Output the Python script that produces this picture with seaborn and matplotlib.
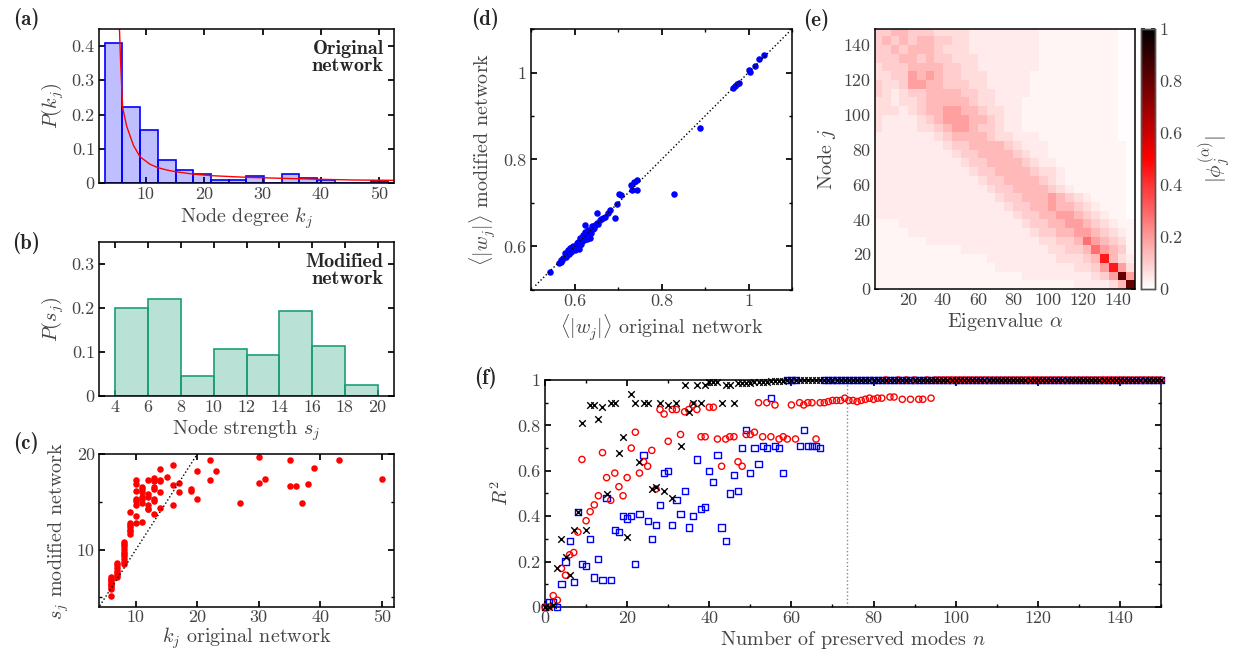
import numpy as np
import pandas as pd
import matplotlib
matplotlib.use('Agg')
import matplotlib.pyplot as plt
import seaborn as sns
from matplotlib.colors import LinearSegmentedColormap
from matplotlib.ticker import FuncFormatter, MultipleLocator

# ---------------- data ----------------
# (a) degree distribution of the original network
deg_edges = [3.0, 6.0, 9.0, 12.1, 15.1, 18.1, 21.2, 24.2, 27.2, 30.3, 33.3,
             36.3, 39.4, 42.4, 45.4, 48.5, 51.5]
deg_prob = [0.41, 0.221, 0.154, 0.066, 0.039, 0.027, 0.008, 0.008, 0.02, 0.0,
            0.027, 0.0135, 0.008, 0.0, 0.0, 0.0068]
fit_k = [5.4, 5.5, 5.73, 6.05, 6.75, 7.9, 9.0, 10.7, 12.05, 13.6, 15.1, 18.1,
         21.2, 27.2, 33.3, 39.4, 45.5, 52.5]
fit_p = [0.5, 0.45, 0.34, 0.22, 0.165, 0.11, 0.077, 0.055, 0.045, 0.038, 0.033,
         0.026, 0.0215, 0.0166, 0.0137, 0.011, 0.0088, 0.0078]

# (b) strength distribution of the modified network
str_edges = [4, 6, 8, 10, 12, 14, 16, 18, 20]
str_prob = [0.2, 0.22, 0.046, 0.106, 0.093, 0.194, 0.113, 0.026]

# (c) node degree (original) vs node strength (modified)
k_orig = [6, 6, 6, 6, 6, 6, 6, 6, 6,
          7, 7, 7, 7, 7, 7, 7,
          8, 8, 8, 8, 8, 8, 8, 8, 8, 8,
          9, 9, 9, 9, 9, 9, 9,
          10, 10, 10, 10, 10, 10, 10, 10,
          11, 11, 11, 11, 11, 11, 11,
          12, 12, 12, 12, 12, 12,
          13, 13, 13, 13, 13, 13, 13, 13,
          14, 14, 14, 14, 14, 15, 16, 16, 16, 17, 17, 19, 19, 20, 20,
          22, 22, 23, 27, 30, 30, 31, 35, 35, 36, 37, 38, 39, 43, 50]
s_mod = [7.13, 6.96, 6.8, 6.6, 6.4, 6.26, 6.1, 5.9, 5.15,
         8.6, 8.34, 8.1, 7.8, 7.6, 7.3, 7.1,
         10.8, 10.6, 10.35, 10.1, 9.8, 9.55, 9.3, 9.0, 8.75, 8.5,
         13.9, 12.8, 12.6, 12.4, 12.1, 11.9, 11.6,
         17.3, 16.9, 16.1, 15.3, 15.1, 14.7, 13.5, 12.8,
         16.5, 16.3, 16.0, 15.5, 15.3, 14.9, 12.9,
         17.3, 15.8, 15.5, 14.7, 14.3, 14.2,
         17.5, 17.3, 17.2, 16.6, 16.3, 15.3, 15.1, 13.7,
         18.4, 17.3, 17.2, 16.0, 14.4, 17.6, 18.8, 16.8, 14.7, 17.0, 16.0,
         16.3, 16.1, 18.2, 15.3,
         19.4, 17.3, 18.2, 14.9, 19.7, 17.0, 17.4, 19.4, 16.7, 16.7, 14.9,
         16.9, 18.5, 19.4, 17.4]

# (d) mean absolute weight, original vs modified
w_orig = [0.544, 0.565, 0.568, 0.570, 0.572, 0.574, 0.578, 0.580, 0.582, 0.586,
          0.588, 0.590, 0.593, 0.595, 0.597, 0.600, 0.603, 0.605, 0.607, 0.609,
          0.611, 0.612, 0.613, 0.615, 0.617, 0.618, 0.620, 0.622, 0.623, 0.624,
          0.626, 0.627, 0.629, 0.630, 0.632, 0.634, 0.636, 0.638, 0.640, 0.643,
          0.645, 0.647, 0.651, 0.651, 0.655, 0.658, 0.662, 0.666, 0.671, 0.678,
          0.682, 0.693, 0.697, 0.703, 0.706, 0.731, 0.733, 0.737, 0.744, 0.744,
          0.829, 0.888, 0.965, 0.969, 0.973, 0.979, 1.000, 1.004, 1.015, 1.025,
          1.036]
w_mod = [0.542, 0.561, 0.569, 0.565, 0.568, 0.573, 0.584, 0.576, 0.580, 0.592,
         0.583, 0.596, 0.588, 0.598, 0.600, 0.593, 0.597, 0.607, 0.600, 0.611,
         0.594, 0.603, 0.619, 0.606, 0.612, 0.620, 0.626, 0.615, 0.649, 0.634,
         0.630, 0.622, 0.617, 0.628, 0.638, 0.626, 0.619, 0.632, 0.646, 0.640,
         0.643, 0.649, 0.655, 0.676, 0.652, 0.660, 0.664, 0.665, 0.668, 0.676,
         0.685, 0.666, 0.698, 0.720, 0.718, 0.741, 0.729, 0.749, 0.754, 0.731,
         0.720, 0.872, 0.965, 0.969, 0.974, 0.977, 1.005, 1.002, 1.015, 1.030,
         1.041]

# (e) |phi_j^(alpha)| on a coarse 30 x 30 grid (5 nodes x 5 eigenvalues per cell)
# rows: node 150 (top) -> 0 (bottom); columns: eigenvalue 0 -> 150
# digit = intensity level, see phi_levels
phi_rows = [
    "445544433" "3322222222" "111111111" "00",
    "454545544" "3322222222" "111111111" "00",
    "445455543" "3322222222" "111111111" "00",
    "444554544" "3332222222" "111111111" "00",
    "344455554" "4332222222" "111111111" "00",
    "334465654" "4333222221" "111111111" "00",
    "433466554" "4433222221" "111111111" "00",
    "432344555" "5443322221" "111111111" "00",
    "332334555" "5543322211" "111111111" "00",
    "333234556" "6554332211" "111111111" "00",
    "322223456" "6655432211" "111111111" "00",
    "322223345" "6654432211" "111111111" "00",
    "222222234" "5555433222" "111111111" "00",
    "222222223" "4455554322" "211111111" "10",
    "222222222" "3445555432" "211111111" "10",
    "222222222" "2344555543" "221111111" "10",
    "222222222" "2234455554" "332111111" "10",
    "222222222" "2223445555" "432111111" "10",
    "222222222" "2222344555" "543211111" "10",
    "222222222" "2222234455" "565432111" "10",
    "222222222" "2222223445" "565543211" "10",
    "222222222" "2222222344" "556654321" "10",
    "111222222" "2222222234" "455665432" "11",
    "111122222" "2222222223" "445566543" "21",
    "111111222" "2222222222" "334457654" "31",
    "111111111" "1222222222" "233445765" "41",
    "111111111" "1111222222" "223334585" "32",
    "111111111" "1111122222" "222233468" "63",
    "111111111" "1111111122" "222222346" "96",
    "111111111" "1111111111" "111122223" "59",
]
phi_levels = [0.005, 0.02, 0.04, 0.07, 0.10, 0.14, 0.19, 0.28, 0.45, 0.8]

# (f) R^2 vs number of preserved modes, three reconstructions
black_n = list(range(0, 151))
black_r2 = [0.0, 0.0, 0.01, 0.17, 0.30, 0.22, 0.14, 0.34, 0.42, 0.81,
            0.34, 0.89, 0.89, 0.83, 0.88, 0.50, 0.90, 0.90, 0.68, 0.75,
            0.31, 0.94, 0.90, 0.64, 0.90, 0.90, 0.52, 0.53, 0.90, 0.51,
            0.89, 0.48, 0.90, 0.71, 0.98, 0.86, 0.90, 0.98, 0.90, 0.98,
            0.99, 0.99, 0.99, 0.90, 0.98, 0.98, 0.90, 0.985, 0.985, 0.985,
            0.985, 0.99, 0.99, 0.99, 0.99, 0.995, 0.995, 0.995, 0.995, 1,
            1, 1, 1, 1, 1, 1, 1, 1, 1, 1, 1, 1, 1, 1, 1, 1, 1, 1, 1, 1,
            1, 1, 1, 1, 1, 1, 1, 1, 1, 1, 1, 1, 1, 1, 1, 1, 1, 1, 1, 1,
            1, 1, 1, 1, 1, 1, 1, 1, 1, 1, 1, 1, 1, 1, 1, 1, 1, 1, 1, 1,
            1, 1, 1, 1, 1, 1, 1, 1, 1, 1, 1, 1, 1, 1, 1, 1, 1, 1, 1, 1,
            1, 1, 1, 1, 1, 1, 1, 1, 1, 1, 1]
red_n = list(range(0, 151))
red_r2 = [0.0, 0.0, 0.05, 0.03, 0.17, 0.14, 0.23, 0.24, 0.33, 0.65,
          0.38, 0.42, 0.45, 0.49, 0.68, 0.57, 0.47, 0.59, 0.53, 0.49,
          0.57, 0.70, 0.77, 0.59, 0.64, 0.62, 0.69, 0.52, 0.87, 0.85,
          0.73, 0.87, 0.87, 0.76, 0.86, 0.87, 0.89, 0.87, 0.75, 0.75,
          0.88, 0.88, 0.74, 0.62, 0.74, 0.75, 0.75, 0.64, 0.62, 0.76,
          0.76, 0.77, 0.90, 0.75, 0.90, 0.75, 0.89, 0.74, 0.75, 0.74,
          0.89, 0.74, 0.90, 0.89, 0.90, 0.90, 0.74, 0.90, 0.90, 0.905,
          0.91, 0.91, 0.91, 0.92, 0.91, 0.91, 0.905, 0.91, 0.915, 0.92,
          0.915, 0.92, 0.92, 1, 0.925, 0.925, 1, 0.915, 1, 0.915,
          1, 0.915, 0.915, 1, 0.92, 1, 1, 1, 1, 1,
          1, 1, 1, 1, 1, 1, 1, 1, 1, 1, 1, 1, 1, 1, 1, 1, 1, 1, 1, 1,
          1, 1, 1, 1, 1, 1, 1, 1, 1, 1, 1, 1, 1, 1, 1, 1, 1, 1, 1, 1,
          1, 1, 1, 1, 1, 1, 1, 1, 1, 1, 1]
blue_n = list(range(0, 151))
blue_r2 = [0.0, 0.02, 0.02, 0.0, 0.10, 0.20, 0.29, 0.11, 0.42, 0.19,
           0.18, 0.30, 0.13, 0.21, 0.12, 0.48, 0.12, 0.34, 0.33, 0.40,
           0.39, 0.40, 0.19, 0.41, 0.67, 0.38, 0.30, 0.36, 0.45, 0.59,
           0.60, 0.36, 0.47, 0.41, 0.51, 0.35, 0.40, 0.65, 0.43, 0.44,
           0.60, 0.55, 0.67, 0.35, 0.29, 0.50, 0.58, 0.51, 0.70, 0.78,
           0.59, 0.70, 0.63, 0.71, 0.70, 0.92, 0.71, 0.70, 0.59, 1,
           1, 1, 0.71, 0.78, 0.71, 0.71, 0.71, 0.70, 1, 1,
           1, 1, 1, 1, 1, 1, 1, 1, 1, 1, 1, 1, 1, 1, 1, 1, 1, 1, 1, 1,
           1, 1, 1, 1, 1, 1, 1, 1, 1, 1, 1, 1, 1, 1, 1, 1, 1, 1, 1, 1,
           1, 1, 1, 1, 1, 1, 1, 1, 1, 1, 1, 1, 1, 1, 1, 1, 1, 1, 1, 1,
           1, 1, 1, 1, 1, 1, 1, 1, 1, 1, 1, 1, 1, 1, 1, 1, 1, 1, 1, 1,
           1]
n_cut = 73.5

# ---------------- style ----------------
sns.set_theme(style='ticks')
plt.rcParams.update({
    'font.family': 'cmr10',
    'mathtext.fontset': 'cm',
    'axes.formatter.use_mathtext': True,
    'axes.unicode_minus': False,
    'xtick.direction': 'in', 'ytick.direction': 'in',
    'xtick.top': True, 'ytick.right': True,
    'xtick.major.size': 4, 'ytick.major.size': 4,
    'xtick.minor.size': 2.5, 'ytick.minor.size': 2.5,
    'xtick.major.pad': 3, 'ytick.major.pad': 3,
    'xtick.color': 'black', 'ytick.color': 'black',
    'xtick.labelcolor': '#444444', 'ytick.labelcolor': '#444444',
    'axes.labelcolor': '#444444',
    'axes.edgecolor': 'black', 'axes.linewidth': 1.1,
    'xtick.labelsize': 13, 'ytick.labelsize': 13,
    'axes.labelsize': 14.5,
})

W, H = 1240, 654
fig = plt.figure(figsize=(W / 100, H / 100), dpi=100)


def box(l, t, r, b):
    return [l / W, 1 - b / H, (r - l) / W, (b - t) / H]


fmt = FuncFormatter(lambda v, p: f'{v:g}')


def finish(ax):
    ax.xaxis.set_major_formatter(fmt)
    ax.yaxis.set_major_formatter(fmt)
    ax.tick_params(which='both', top=True, right=True, direction='in')
    for s in ax.spines.values():
        s.set_visible(True)
        s.set_color('black')
        s.set_linewidth(1.1)


def panel_label(txt, px, py):
    fig.text(px / W, 1 - py / H, txt, family='cmb10', fontsize=15,
             ha='center', va='center')


# (a)
ax = fig.add_axes(box(99, 29, 394, 183))
deg_mid = [(deg_edges[i] + deg_edges[i + 1]) / 2 for i in range(len(deg_prob))]
sns.histplot(x=deg_mid, weights=deg_prob, bins=deg_edges, ax=ax,
             facecolor=(0, 0, 1, 0.25), edgecolor='blue', linewidth=1.2)
ax.plot(fit_k, fit_p, color='red', lw=1)
ax.set_xlim(2, 52.5)
ax.set_ylim(0, 0.45)
ax.set_xticks([10, 20, 30, 40, 50])
ax.set_yticks([0, 0.1, 0.2, 0.3, 0.4])
ax.set_xlabel(r'Node degree $k_j$', labelpad=2)
ax.set_ylabel(r'$P(k_j)$', labelpad=4)
ax.text(0.965, 0.93, 'Original\nnetwork', transform=ax.transAxes, ha='right',
        va='top', family='cmb10', fontsize=14.5, linespacing=0.95)
finish(ax)
panel_label('(a)', 26, 19)

# (b)
ax = fig.add_axes(box(99, 242, 394, 396))
str_mid = [(str_edges[i] + str_edges[i + 1]) / 2 for i in range(len(str_prob))]
sns.histplot(x=str_mid, weights=str_prob, bins=str_edges, ax=ax,
             facecolor=(0.106, 0.62, 0.467, 0.3), edgecolor='#1b9e77',
             linewidth=1.2)
ax.set_xlim(3, 21)
ax.set_ylim(0, 0.35)
ax.set_xticks(str_edges)
ax.set_yticks([0, 0.1, 0.2, 0.3])
ax.set_xlabel(r'Node strength $s_j$', labelpad=2)
ax.set_ylabel(r'$P(s_j)$', labelpad=4)
ax.text(0.965, 0.93, 'Modified\nnetwork', transform=ax.transAxes, ha='right',
        va='top', family='cmb10', fontsize=14.5, linespacing=0.95)
finish(ax)
panel_label('(b)', 26, 243)

# (c)
ax = fig.add_axes(box(99, 454, 394, 607))
lo_c = min(min(k_orig), min(s_mod)) - 2
ax.plot([lo_c, 20], [lo_c, 20], ls=':', color='black', lw=1)
sns.scatterplot(x=k_orig, y=s_mod, color='red', s=22, linewidth=0, ax=ax)
ax.set_xlim(4, 52)
ax.set_ylim(4, 20)
ax.set_xticks([10, 20, 30, 40, 50])
ax.set_yticks([10, 20])
ax.yaxis.set_minor_locator(MultipleLocator(5))
ax.set_xlabel(r'$k_j$ original network', labelpad=0)
ax.set_ylabel(r'$s_j$ modified network', labelpad=4)
finish(ax)
ax.tick_params(axis='x', pad=2)
panel_label('(c)', 26, 443)

# (d)
ax = fig.add_axes(box(531, 29, 792, 290))
ax.plot([0.51, 1.093], [0.51, 1.093], ls=':', color='black', lw=1)
sns.scatterplot(x=w_orig, y=w_mod, color='blue', s=22, linewidth=0, ax=ax)
ax.set_xlim(0.5, 1.1)
ax.set_ylim(0.5, 1.1)
ax.set_xticks([0.6, 0.8, 1.0])
ax.set_yticks([0.6, 0.8, 1.0])
ax.xaxis.set_minor_locator(MultipleLocator(0.1))
ax.yaxis.set_minor_locator(MultipleLocator(0.1))
ax.set_xlabel(r'$\langle|w_j|\rangle$ original network', labelpad=2)
ax.set_ylabel(r'$\langle|w_j|\rangle$ modified network', labelpad=4)
finish(ax)
panel_label('(d)', 485, 19)

# (e)
ax = fig.add_axes(box(875, 29, 1135, 289))
cax = fig.add_axes(box(1141, 29, 1155, 289))
phi = np.array([[phi_levels[int(ch)] for ch in row] for row in phi_rows])
cell = 150 / phi.shape[1]
cmap = LinearSegmentedColormap.from_list('wrk', ['white', 'red', 'black'])
sns.heatmap(phi, cmap=cmap, vmin=0, vmax=1, ax=ax, cbar_ax=cax,
            xticklabels=False, yticklabels=False)
alpha_ticks = [20, 40, 60, 80, 100, 120, 140]
node_ticks = [0, 20, 40, 60, 80, 100, 120, 140]
ax.set_xticks([a / cell for a in alpha_ticks])
ax.set_xticklabels([str(a) for a in alpha_ticks], rotation=0)
ax.set_yticks([(150 - v) / cell for v in node_ticks])
ax.set_yticklabels([str(v) for v in node_ticks], rotation=0)
ax.set_xlim(1 / cell, phi.shape[1])
ax.set_ylim(phi.shape[0], (150 - 149.3) / cell)
ax.tick_params(top=True, right=True, direction='in', length=3)
for s in ax.spines.values():
    s.set_visible(True)
    s.set_color('black')
    s.set_linewidth(1.1)
ax.set_xlabel(r'Eigenvalue $\alpha$', labelpad=2)
ax.set_ylabel(r'Node $j$', labelpad=4)
cax.set_yticks([0, 0.2, 0.4, 0.6, 0.8, 1])
cax.yaxis.set_major_formatter(fmt)
cax.tick_params(direction='in', length=3, left=True, right=True)
for s in cax.spines.values():
    s.set_visible(True)
    s.set_color('#555555')
    s.set_linewidth(1.0)
cax.set_ylabel(r'$|\phi_j^{(\alpha)}|$', labelpad=10, fontsize=15)
panel_label('(e)', 816, 20)

# (f)
ax = fig.add_axes(box(545, 380, 1161, 607))
ax.axvline(n_cut, color='#888888', ls=':', lw=1)
sns.scatterplot(x=blue_n, y=blue_r2, marker='s', s=20, color='blue',
                facecolor='none', edgecolor='blue', linewidth=1,
                clip_on=False, zorder=3, ax=ax)
sns.scatterplot(x=red_n, y=red_r2, marker='o', s=20, color='red',
                facecolor='none', edgecolor='red', linewidth=1,
                clip_on=False, zorder=4, ax=ax)
sns.scatterplot(x=black_n, y=black_r2, marker='x', s=22, color='black',
                linewidth=1, clip_on=False, zorder=5, ax=ax)
ax.set_xlim(0, 150)
ax.set_ylim(0, 1)
ax.set_xticks([0, 20, 40, 60, 80, 100, 120, 140])
ax.set_yticks([0, 0.2, 0.4, 0.6, 0.8, 1])
ax.xaxis.set_minor_locator(MultipleLocator(10))
ax.yaxis.set_minor_locator(MultipleLocator(0.1))
ax.set_xlabel(r'Number of preserved modes $n$', labelpad=2)
ax.set_ylabel(r'$R^2$', labelpad=4)
finish(ax)
panel_label('(f)', 485, 378)

fig.savefig('out.png', dpi=100)
